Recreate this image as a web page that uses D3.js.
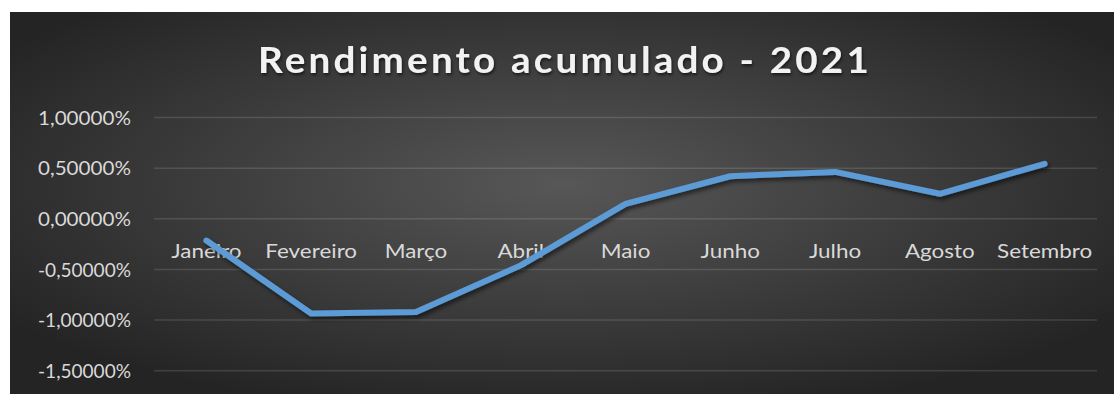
<!DOCTYPE html>
<html>
<head>
<meta charset="utf-8">
<script src="https://cdn.jsdelivr.net/npm/d3@7"></script>
<style>
  html, body { margin: 0; padding: 0; background: #ffffff; }
  svg { display: block; }
</style>
</head>
<body>
<svg id="chart" width="1114" height="394"></svg>
<script>
const titleText = "Rendimento acumulado - 2021";
const categories = ["Janeiro", "Fevereiro", "Março", "Abril", "Maio", "Junho", "Julho", "Agosto", "Setembro"];
const values = [-0.215, -0.935, -0.92, -0.46, 0.148, 0.42, 0.463, 0.247, 0.543];
const yTicks = [-1.5, -1.0, -0.5, 0.0, 0.5, 1.0];

const svg = d3.select("#chart");
const W = 1114, H = 394;
const font = "Lato, 'Open Sans', sans-serif";
const stretch = 1.15;

const defs = svg.append("defs");
const grad = defs.append("radialGradient").attr("id", "bg")
  .attr("cx", "50%").attr("cy", "45%").attr("r", "62%")
  .attr("gradientUnits", "objectBoundingBox");
grad.append("stop").attr("offset", "0%").attr("stop-color", "#575757");
grad.append("stop").attr("offset", "100%").attr("stop-color", "#242424");

const shadow = defs.append("filter").attr("id", "shadow")
  .attr("x", "-10%").attr("y", "-30%").attr("width", "120%").attr("height", "160%");
shadow.append("feDropShadow").attr("dx", 2).attr("dy", 3).attr("stdDeviation", 2.2)
  .attr("flood-color", "#000").attr("flood-opacity", 0.55);

const tshadow = defs.append("filter").attr("id", "tshadow")
  .attr("x", "-5%").attr("y", "-30%").attr("width", "110%").attr("height", "160%");
tshadow.append("feDropShadow").attr("dx", 1).attr("dy", 2).attr("stdDeviation", 1.5)
  .attr("flood-color", "#000").attr("flood-opacity", 0.6);

svg.append("rect").attr("x", 10).attr("y", 12).attr("width", W - 10).attr("height", H - 12)
  .attr("fill", "url(#bg)");

const plotLeft = 154, plotRight = 1097;
const x = d3.scaleBand().domain(categories).range([plotLeft, plotRight]);
const y = d3.scaleLinear().domain([-1.5, 1.0]).range([370.7, 117.5]);

// gridlines
svg.append("g").selectAll("line").data(yTicks).join("line")
  .attr("x1", plotLeft).attr("x2", plotRight)
  .attr("y1", d => y(d)).attr("y2", d => y(d))
  .attr("stroke", "rgba(255,255,255,0.13)").attr("stroke-width", 1.5);

// y axis labels
const fmt = d => d3.format(".5f")(d).replace("−", "-").replace(".", ",") + "%";
const yAxis = d3.axisLeft(y).tickValues(yTicks).tickFormat(fmt).tickSize(0).tickPadding(0);
const yg = svg.append("g").attr("transform", "translate(131,0)").call(yAxis);
yg.select(".domain").remove();
yg.selectAll("text").attr("fill", "#d9d9d9").attr("font-family", font)
  .attr("font-size", 19.5).attr("dy", "0.35em")
  .attr("textLength", 93).attr("lengthAdjust", "spacingAndGlyphs");

// x axis labels (at zero line)
const xAxis = d3.axisBottom(x).tickSize(0).tickPadding(0);
const xg = svg.append("g").attr("transform", `translate(0,${y(0)})`).call(xAxis);
xg.select(".domain").remove();
xg.selectAll("text").attr("fill", "#d9d9d9").attr("font-family", font)
  .attr("font-size", 19.5).attr("y", 32).attr("dy", "0.35em")
  .each(function () {
    const w = this.getComputedTextLength();
    d3.select(this).attr("textLength", w * stretch).attr("lengthAdjust", "spacingAndGlyphs");
  });

// line
const line = d3.line().x((d, i) => x(categories[i]) + x.bandwidth() / 2).y(d => y(d));
svg.append("path").datum(values).attr("d", line)
  .attr("fill", "none").attr("stroke", "#5b9bd5").attr("stroke-width", 6)
  .attr("stroke-linecap", "round").attr("stroke-linejoin", "round")
  .attr("filter", "url(#shadow)");

// title
svg.append("text").text(titleText)
  .attr("x", 258).attr("y", 73)
  .attr("font-family", font).attr("font-weight", "bold").attr("font-size", 36)
  .attr("fill", "#f2f2f2").attr("textLength", 614).attr("lengthAdjust", "spacingAndGlyphs")
  .attr("letter-spacing", 3)
  .attr("filter", "url(#tshadow)");
</script>
</body>
</html>
